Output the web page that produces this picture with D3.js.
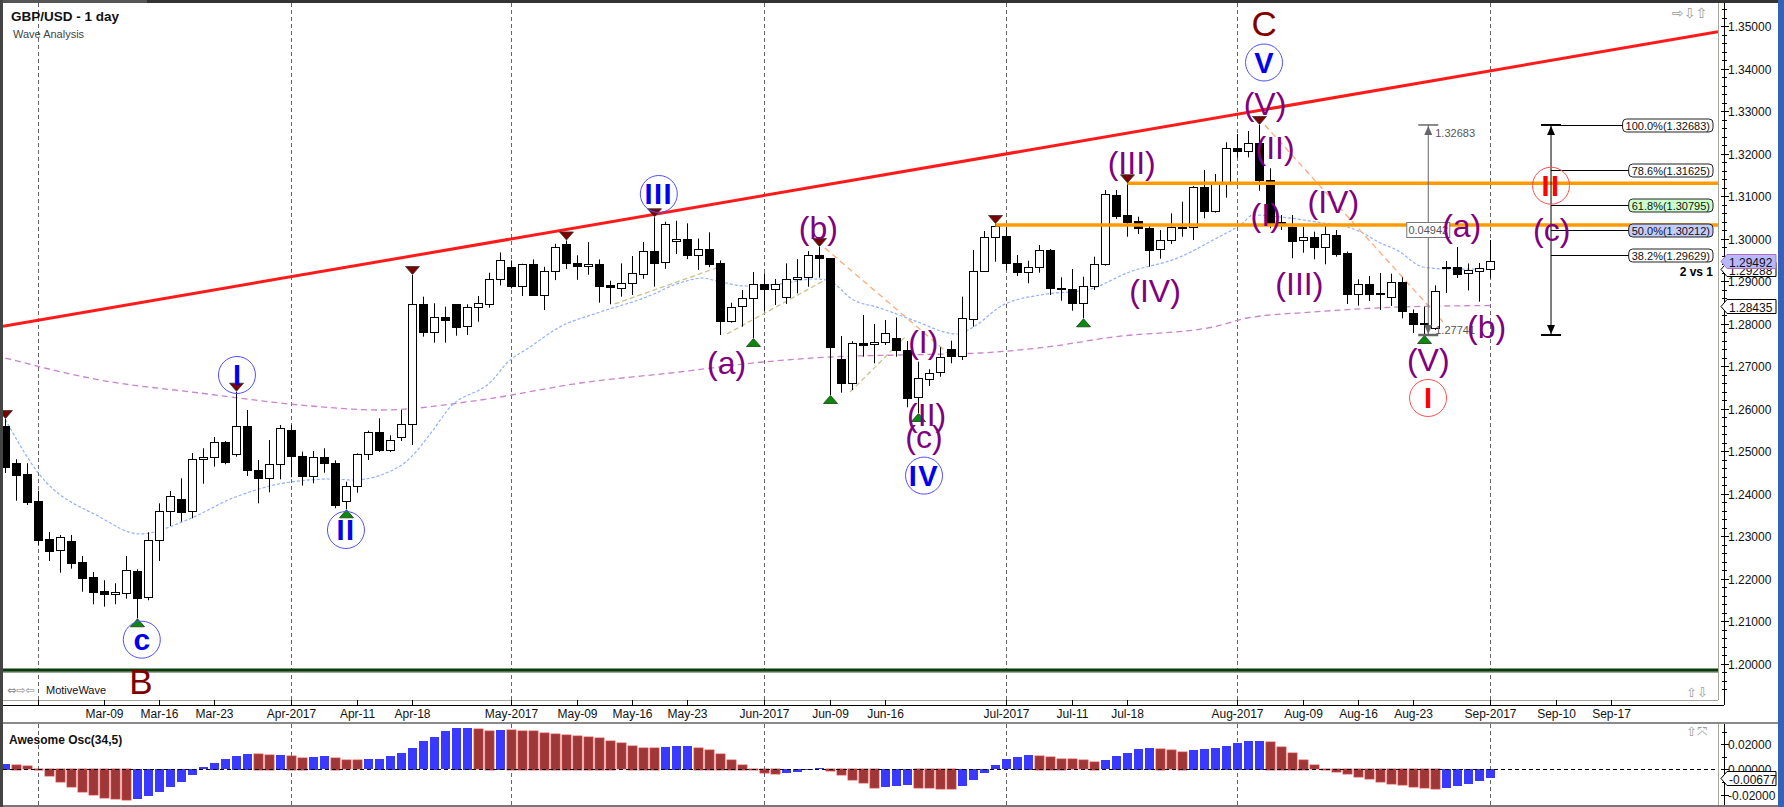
<!DOCTYPE html>
<html><head><meta charset="utf-8">
<script src="https://cdn.jsdelivr.net/npm/d3@7/dist/d3.min.js"></script>
<style>body{margin:0;background:#fff;overflow:hidden}svg{display:block;font-family:"Liberation Sans",Arial,sans-serif}</style>
</head><body><svg id="c" width="1784" height="807"></svg>
<script>
// ================= DATA =================
const openP=[1.2560,1.24738,1.24473,1.23835,1.22941,1.22666,1.22894,1.22400,1.22047,1.21718,1.21640,1.21663,1.22188,1.21570,1.22911,1.23593,1.23882,1.23593,1.24817,1.24864,1.25217,1.24935,1.25593,1.24566,1.24370,1.24699,1.25499,1.24888,1.24417,1.24864,1.24730,1.23828,1.24181,1.24935,1.25452,1.25029,1.25334,1.25640,1.28464,1.27805,1.28172,1.28471,1.27953,1.28393,1.28487,1.29065,1.29347,1.28891,1.29418,1.28690,1.29253,1.29872,1.29433,1.29353,1.29418,1.28910,1.28830,1.28957,1.29191,1.29725,1.29453,1.29963,1.30010,1.29631,1.29775,1.29433,1.28078,1.28407,1.28604,1.28934,1.28817,1.28628,1.29050,1.29097,1.29614,1.29553,1.27170,1.26605,1.27553,1.27523,1.27560,1.27664,1.27388,1.26266,1.26722,1.26854,1.27405,1.27231,1.28134,1.29254,1.30054,1.30071,1.29428,1.29216,1.29334,1.29741,1.28840,1.28824,1.28487,1.28887,1.29405,1.31036,1.30565,1.30424,1.30266,1.29748,1.29969,1.30266,1.30276,1.31217,1.30643,1.31311,1.32134,1.32054,1.32252,1.31381,1.30393,1.30290,1.29976,1.30040,1.29805,1.30094,1.29664,1.28699,1.28941,1.28722,1.28628,1.28977,1.28252,1.28016,1.27906,1.29341,1.29341,1.29193,1.29259,1.29311];
const highP=[1.25765,1.24818,1.24724,1.24078,1.23106,1.23035,1.23035,1.22541,1.22165,1.21970,1.21899,1.22541,1.22228,1.23099,1.23781,1.24071,1.24370,1.24965,1.25076,1.25342,1.25247,1.26407,1.25976,1.24801,1.25271,1.25624,1.25624,1.24996,1.25012,1.25076,1.24793,1.24290,1.24958,1.25490,1.25781,1.25381,1.25976,1.29153,1.28643,1.28487,1.28407,1.28471,1.28464,1.28659,1.29206,1.29683,1.29495,1.29418,1.29519,1.29347,1.29888,1.29966,1.29616,1.29926,1.29519,1.29018,1.29425,1.29600,1.29929,1.30511,1.30407,1.30430,1.30369,1.30010,1.30157,1.29495,1.28501,1.28800,1.29224,1.29192,1.29058,1.29426,1.29527,1.29715,1.29810,1.29553,1.27718,1.27593,1.28212,1.28000,1.28094,1.28153,1.27600,1.27113,1.26934,1.27452,1.27607,1.28643,1.29741,1.30188,1.30353,1.30290,1.29624,1.29489,1.29859,1.29765,1.29099,1.29294,1.29113,1.29584,1.31153,1.31153,1.31311,1.30525,1.30329,1.30212,1.30605,1.30878,1.31247,1.31624,1.31530,1.32275,1.32471,1.32541,1.32683,1.31664,1.30565,1.30565,1.30290,1.30172,1.30329,1.30212,1.29706,1.29052,1.29129,1.29200,1.29184,1.29099,1.28341,1.28407,1.28910,1.29483,1.29812,1.29424,1.29436,1.29977];
const lowP=[1.24494,1.23842,1.23741,1.22800,1.22424,1.22148,1.22243,1.21701,1.21405,1.21349,1.21405,1.21537,1.21076,1.21499,1.22424,1.23247,1.23348,1.23429,1.24243,1.24643,1.24699,1.24878,1.24424,1.23781,1.24040,1.24346,1.24393,1.24196,1.24252,1.24501,1.23664,1.23640,1.24031,1.24801,1.24988,1.24988,1.25247,1.25153,1.27702,1.27560,1.27560,1.27725,1.27741,1.28054,1.28384,1.28907,1.28837,1.28659,1.28675,1.28329,1.29032,1.29292,1.29040,1.29158,1.28502,1.28464,1.28643,1.28682,1.29065,1.28877,1.29298,1.29648,1.29526,1.29274,1.29338,1.27741,1.28031,1.27937,1.27671,1.28306,1.28447,1.28471,1.28721,1.28877,1.29089,1.26330,1.26384,1.26447,1.27231,1.27076,1.27506,1.27231,1.26040,1.25906,1.26541,1.26760,1.27076,1.27153,1.27937,1.29230,1.29466,1.29270,1.29129,1.28958,1.29207,1.28682,1.28548,1.28313,1.28134,1.28800,1.29372,1.30471,1.30054,1.30118,1.29348,1.29536,1.29882,1.30054,1.29976,1.30487,1.30619,1.30972,1.31913,1.31922,1.31136,1.30252,1.30212,1.29546,1.29678,1.29522,1.29405,1.29584,1.28471,1.28432,1.28541,1.28330,1.28424,1.28134,1.27789,1.27741,1.27859,1.28730,1.29082,1.28789,1.28525,1.29076];
const closeP=[1.24636,1.24456,1.23819,1.22918,1.22666,1.22981,1.22384,1.22031,1.21701,1.21640,1.21694,1.22204,1.21560,1.22911,1.23593,1.23946,1.23583,1.24817,1.24864,1.25217,1.24737,1.25593,1.24558,1.24370,1.24699,1.25546,1.24878,1.24408,1.24864,1.24713,1.23748,1.24181,1.24935,1.25452,1.25019,1.25264,1.25647,1.28464,1.27796,1.28158,1.28094,1.27937,1.28393,1.28487,1.29065,1.29512,1.28891,1.29418,1.28682,1.29253,1.29817,1.29423,1.29353,1.29401,1.28907,1.28854,1.28957,1.29191,1.29725,1.29440,1.30346,1.30010,1.29631,1.29775,1.29423,1.28078,1.28407,1.28604,1.28934,1.28817,1.28934,1.29058,1.29097,1.29614,1.29534,1.27452,1.26605,1.27546,1.27513,1.27570,1.27781,1.27381,1.26266,1.26722,1.26854,1.27217,1.27231,1.28134,1.29254,1.30054,1.30306,1.29428,1.29207,1.29334,1.29734,1.28854,1.28807,1.28487,1.28887,1.29405,1.31052,1.30548,1.30407,1.30252,1.29748,1.29969,1.30282,1.30290,1.31217,1.30643,1.31335,1.32134,1.32054,1.32252,1.31372,1.30353,1.30346,1.29960,1.30040,1.29795,1.30110,1.29654,1.28694,1.28934,1.28699,1.28699,1.28977,1.28306,1.27996,1.27993,1.28788,1.29306,1.29176,1.29259,1.29318,1.29492];
const aoVal=[0.0047,0.0039,0.0024,-0.0004,-0.0053,-0.0105,-0.0139,-0.0179,-0.0210,-0.0229,-0.0242,-0.0243,-0.0241,-0.0218,-0.0179,-0.0139,-0.0100,-0.0045,0.0018,0.0055,0.0082,0.0110,0.0126,0.0124,0.0118,0.0119,0.0110,0.0095,0.0103,0.0104,0.0095,0.0074,0.0073,0.0082,0.0087,0.0110,0.0134,0.0174,0.0224,0.0260,0.0302,0.0331,0.0332,0.0318,0.0308,0.0316,0.0315,0.0308,0.0307,0.0292,0.0284,0.0274,0.0266,0.0260,0.0252,0.0229,0.0210,0.0189,0.0174,0.0173,0.0181,0.0189,0.0190,0.0174,0.0158,0.0126,0.0079,0.0039,0.0002,-0.0032,-0.0039,-0.0029,-0.0021,-0.0008,0.0008,-0.0013,-0.0045,-0.0084,-0.0113,-0.0147,-0.0146,-0.0132,-0.0124,-0.0147,-0.0148,-0.0155,-0.0156,-0.0132,-0.0084,-0.0029,0.0032,0.0082,0.0103,0.0118,0.0110,0.0103,0.0087,0.0082,0.0074,0.0063,0.0074,0.0110,0.0134,0.0166,0.0174,0.0166,0.0153,0.0142,0.0158,0.0166,0.0174,0.0189,0.0213,0.0229,0.0230,0.0221,0.0181,0.0134,0.0079,0.0032,-0.0003,-0.0021,-0.0037,-0.0060,-0.0076,-0.0100,-0.0116,-0.0124,-0.0140,-0.0150,-0.0156,-0.0147,-0.0132,-0.0116,-0.0092,-0.00677];

const blueMaIdx=[0,3,8.6,12.2,16.5,20.7,25.9,29.8,31.6,35.9,38.9,40.2,44.3,45.6,47.7,50.4,53.8,58.3,61.3,63.4,64.3,67.4,70.4,73.4,74.7,77.1,79.5,82.5,86.5,88,90.7,94.7,98.3,102.2,106.8,109.8,112.5,113.4,115.9,119.8,122,123.4,125,126.5,128.9,131.1,135];
const blueMaVal=[1.25753,1.24494,1.23459,1.23059,1.23388,1.23906,1.24282,1.24353,1.24329,1.24659,1.25506,1.25976,1.26682,1.27082,1.27459,1.27929,1.28259,1.28635,1.28965,1.29082,1.29035,1.28894,1.28941,1.29059,1.29035,1.28565,1.28377,1.28094,1.27765,1.27929,1.28447,1.28706,1.28800,1.29224,1.29577,1.29976,1.30376,1.30565,1.30518,1.30376,1.30282,1.30141,1.29906,1.29741,1.29341,1.29294,1.29288];
const purpleMaIdx=[0,8.6,17.7,26.8,34.1,43.2,52.3,61.3,68.9,75,81.3,88.6,94.7,100.7,109.8,112.9,118.9,126.8,135];
const purpleMaVal=[1.27200,1.26682,1.26376,1.26094,1.25976,1.26212,1.26612,1.26871,1.27106,1.27224,1.27271,1.27318,1.27459,1.27694,1.27929,1.28141,1.28282,1.28400,1.28435];

const dateTickIdx=[3,9,14,19,26,32,37,46,52,57,62,69,75,80,91,97,102,112,118,123,128,135,141,146];
const dateTickLbl=["","Mar-09","Mar-16","Mar-23","Apr-2017","Apr-11","Apr-18","May-2017","May-09","May-16","May-23","Jun-2017","Jun-09","Jun-16","Jul-2017","Jul-11","Jul-18","Aug-2017","Aug-09","Aug-16","Aug-23","Sep-2017","Sep-10","Sep-17"];
const monthGridIdx=[3,26,46,69,91,112,135];
const priceTicks=[1.20,1.21,1.22,1.23,1.24,1.25,1.26,1.27,1.28,1.29,1.30,1.31,1.32,1.33,1.34,1.35];
const aoTicks=[0.02,0.0,-0.02];

const trendIdx=[0,155.7], trendVal=[1.27958,1.34878];
const supportVal=1.19859;
const orangeIdx=[102,90], orangeVal=[1.3131,1.3033];
const orangeDashA=[[74.5,1.2979],[86.1,1.2722]], orangeDashB=[[114.5,1.32682],[130.7,1.28047]];
const khakiDash=[[[55.4,1.28471],[65.4,1.29388]],[[65.6,1.27765],[74.8,1.29075]],[[76.8,1.26400],[81.8,1.27694]]];
const redDownIdx=[0,21,37,51,59,74,90,102,114];
const greenUpIdx=[12,31,68,75,83,98,129];

const blueWaveIdx=[12.41,21.06,30.97,59.41,83.52,114.43];
const blueWaveVal=[1.20572,1.26800,1.23153,1.31059,1.24433,1.34153];
const blueWaveTxt=["c","I","II","III","IV","V"];
const redWaveIdx=[129.34,140.52], redWaveVal=[1.26259,1.31254], redWaveTxt=["I","II"];
const bigWaveIdx=[12.34,114.43], bigWaveVal=[1.19584,1.35075], bigWaveTxt=["B","C"];
const purpleIdx=[73.91,65.58,83.45,83.76,83.52,102.4,104.52,114.52,115.43,114.58,120.73,117.64,129.36,132.4,134.67,140.58];
const purpleVal=[1.30252,1.27075,1.27584,1.25859,1.25341,1.31781,1.28784,1.33176,1.32134,1.30565,1.30864,1.28941,1.27153,1.30313,1.27937,1.30212];
const purpleTxt=["(b)","(a)","(I)","(II)","(c)","(III)","(IV)","(V)","(II)","(I)","(IV)","(III)","(V)","(a)","(b)","(c)"];

const fibIdx=140.52, fibHigh=1.32683, fibLow=1.27741;
const fibPrices=[1.32683,1.31625,1.30795,1.30212,1.29629];
const fibLabels=["100.0%(1.32683)","78.6%(1.31625)","61.8%(1.30795)","50.0%(1.30212)","38.2%(1.29629)"];
const fibFills=["#ffffff","#ffffff","#ccffcc","#c4ccff","#ffffff"];
const fibNote="2 vs 1", fibNotePrice=1.2913;
const measIdx=129.36, measHigh=1.32683, measLow=1.27741, measDiff="0.04942";
const priceTags=[1.28435,1.29288,1.29492];
const priceTagFill=["#ffffff","#ffffff","#b8b8ff"];
const aoTag=-0.00677;

// ================= LAYOUT =================
const W=1784,H=807,L=3,R=1718,T=3,B=700,AXX=1724,DAXY=705,AOT=724,AOB=805;
const svg=d3.select('#c');
const x=d3.scaleLinear().domain([-0.209,155.7]).range([L,R]);
const y=d3.scaleLinear().domain([1.191529,1.355529]).range([B,T]);
const ya=d3.scaleLinear().domain([-0.028175,0.036111]).range([AOB,AOT]);
const cx=i=>Math.round(x(i));

svg.append('rect').attr('width',W).attr('height',H).attr('fill','#fff');
const defs=svg.append('defs');
defs.append('clipPath').attr('id','mc').append('rect').attr('x',L).attr('y',T).attr('width',R-L).attr('height',B-T);
defs.append('clipPath').attr('id','ac').append('rect').attr('x',L).attr('y',AOT).attr('width',R-L).attr('height',AOB-AOT);

// month grid
const grid=svg.append('g').attr('stroke','#666').attr('stroke-dasharray','4,3');
monthGridIdx.forEach(i=>{
  grid.append('line').attr('x1',cx(i)+0.5).attr('x2',cx(i)+0.5).attr('y1',T).attr('y2',B);
  grid.append('line').attr('x1',cx(i)+0.5).attr('x2',cx(i)+0.5).attr('y1',AOT).attr('y2',AOB);
});

const main=svg.append('g').attr('clip-path','url(#mc)');
// support line
main.append('line').attr('x1',L).attr('x2',R).attr('y1',y(supportVal)+2).attr('y2',y(supportVal)+2).attr('stroke','#9aaa9a').attr('stroke-width',2);
main.append('line').attr('x1',L).attr('x2',R).attr('y1',y(supportVal)).attr('y2',y(supportVal)).attr('stroke','#0b3a0b').attr('stroke-width',3.2);
// moving averages
const lineGen=d3.line().x(d=>x(d[0])).y(d=>y(d[1])).curve(d3.curveMonotoneX);
main.append('path').attr('d',lineGen(purpleMaIdx.map((d,k)=>[d,purpleMaVal[k]]))).attr('fill','none').attr('stroke','#c984cc').attr('stroke-width',1.3).attr('stroke-dasharray','6,4');
main.append('path').attr('d',lineGen(blueMaIdx.map((d,k)=>[d,blueMaVal[k]]))).attr('fill','none').attr('stroke','#8fb0ff').attr('stroke-width',1.2).attr('stroke-dasharray','3,2');
// khaki + orange dashed
khakiDash.forEach(s=>main.append('line').attr('x1',x(s[0][0])).attr('y1',y(s[0][1])).attr('x2',x(s[1][0])).attr('y2',y(s[1][1])).attr('stroke','#c9c28a').attr('stroke-width',1.3).attr('stroke-dasharray','5,3'));
[orangeDashA,orangeDashB].forEach(s=>main.append('line').attr('x1',x(s[0][0])).attr('y1',y(s[0][1])).attr('x2',x(s[1][0])).attr('y2',y(s[1][1])).attr('stroke','#ffaa77').attr('stroke-width',1.3).attr('stroke-dasharray','6,4'));

// candles
const idx=d3.range(openP.length);
const cg=main.append('g');
cg.selectAll('line').data(idx).join('line')
  .attr('x1',i=>cx(i)+0.5).attr('x2',i=>cx(i)+0.5)
  .attr('y1',i=>y(highP[i])).attr('y2',i=>y(lowP[i])).attr('stroke','#000');
cg.selectAll('rect').data(idx).join('rect')
  .attr('x',i=>cx(i)-3.5).attr('width',8)
  .attr('y',i=>Math.round(y(Math.max(openP[i],closeP[i])))+0.5)
  .attr('height',i=>Math.max(1,Math.round(Math.abs(y(openP[i])-y(closeP[i])))))
  .attr('fill',i=>closeP[i]>=openP[i]?'#fff':'#000').attr('stroke','#000');

// orange horizontal lines
orangeIdx.forEach((i,k)=>main.append('line').attr('x1',x(i)).attr('x2',R).attr('y1',y(orangeVal[k])).attr('y2',y(orangeVal[k])).attr('stroke','#ff9a00').attr('stroke-width',3.5));
// red trend line (extended to the left edge)
const trendAt=v=>trendVal[0]+(trendVal[1]-trendVal[0])*(v-trendIdx[0])/(trendIdx[1]-trendIdx[0]);
main.append('line').attr('x1',L).attr('y1',y(trendAt(x.invert(L)))).attr('x2',x(trendIdx[1])).attr('y2',y(trendVal[1])).attr('stroke','#ff1a1a').attr('stroke-width',3);

// markers
redDownIdx.forEach(i=>{const X=cx(i)+0.5,Y=y(highP[i])-0.5;
  main.append('path').attr('d',`M${X-7},${Y-8}L${X+7},${Y-8}L${X},${Y}Z`).attr('fill','#7a0000').attr('stroke','#333').attr('stroke-width',0.8);});
greenUpIdx.forEach(i=>{const X=cx(i)+0.5,Y=y(lowP[i])+0.5;
  main.append('path').attr('d',`M${X-7},${Y+8}L${X+7},${Y+8}L${X},${Y}Z`).attr('fill','#0a8a0a').attr('stroke','#1a3a1a').attr('stroke-width',0.8);});

// measurement tool
const mg=main.append('g').attr('stroke','#666').attr('fill','#666');
const mX=x(measIdx), mT=y(measHigh), mB=y(measLow);
mg.append('line').attr('x1',mX).attr('x2',mX).attr('y1',mT).attr('y2',mB);
mg.append('line').attr('x1',mX-10).attr('x2',mX+10).attr('y1',mT).attr('y2',mT).attr('stroke-width',1.5);
mg.append('line').attr('x1',mX-10).attr('x2',mX+10).attr('y1',mB).attr('y2',mB).attr('stroke-width',2.5);
mg.append('path').attr('d',`M${mX},${mT+1}L${mX-4},${mT+10}L${mX+4},${mT+10}Z`).attr('stroke','none');
mg.append('path').attr('d',`M${mX},${mB-1}L${mX-4},${mB-10}L${mX+4},${mB-10}Z`).attr('stroke','none');
main.append('text').attr('x',mX+7).attr('y',mT+12).text(measHigh.toFixed(5)).attr('font-size',11).attr('fill','#555');
main.append('text').attr('x',mX+7).attr('y',mB-1).text(measLow.toFixed(5)).attr('font-size',11).attr('fill','#555');
const mMid=y((measHigh+measLow)/2);
main.append('rect').attr('x',mX-21.5).attr('y',Math.round(mMid)-7.5).attr('width',43).attr('height',15).attr('fill','#fff').attr('stroke','#777');
main.append('text').attr('x',mX).attr('y',Math.round(mMid)+4).attr('text-anchor','middle').text(measDiff).attr('font-size',11).attr('fill','#555');

// fib tool
const fg=main.append('g');
const fX=x(fibIdx), fT=y(fibHigh), fB=y(fibLow);
fg.append('line').attr('x1',fX).attr('x2',fX).attr('y1',fT).attr('y2',fB).attr('stroke','#000');
fg.append('line').attr('x1',fX-10).attr('x2',fX+10).attr('y1',fT).attr('y2',fT).attr('stroke','#000').attr('stroke-width',2);
fg.append('line').attr('x1',fX-10).attr('x2',fX+10).attr('y1',fB).attr('y2',fB).attr('stroke','#000').attr('stroke-width',2);
fg.append('path').attr('d',`M${fX},${fT+1}L${fX-4},${fT+10}L${fX+4},${fT+10}Z`).attr('fill','#000');
fg.append('path').attr('d',`M${fX},${fB-1}L${fX-4},${fB-10}L${fX+4},${fB-10}Z`).attr('fill','#000');
fibPrices.forEach((p,k)=>{
  const Y=Math.round(y(p))+0.5;
  const t=fg.append('text').attr('x',R-8).attr('y',Y+4).attr('text-anchor','end').attr('font-size',11).attr('fill','#111').text(fibLabels[k]);
  const bb=t.node().getBBox();
  fg.insert('rect','text').attr('x',bb.x-3).attr('y',Y-6.5).attr('width',bb.width+6).attr('height',13).attr('rx',4).attr('fill',fibFills[k]).attr('stroke','#222');
  fg.append('line').attr('x1',k===0?fX+10:fX).attr('x2',bb.x-3).attr('y1',Y).attr('y2',Y).attr('stroke','#000');
});
fg.append('text').attr('x',R-5).attr('y',y(fibNotePrice)).attr('text-anchor','end').attr('font-size',12).attr('font-weight','bold').text(fibNote);

// wave labels
const lab=main.append('g');
blueWaveTxt.forEach((t,k)=>{const X=x(blueWaveIdx[k]),Y=y(blueWaveVal[k]);
  lab.append('circle').attr('cx',X).attr('cy',Y).attr('r',18.5).attr('fill','none').attr('stroke','#5050ff');
  lab.append('text').attr('x',X).attr('y',Y).attr('dy','0.36em').attr('text-anchor','middle').attr('font-size',t==='c'?30:29).attr('font-weight','bold').attr('fill','#0000ee').attr('letter-spacing',t.length>1?1.5:0).text(t);});
redWaveTxt.forEach((t,k)=>{const X=x(redWaveIdx[k]),Y=y(redWaveVal[k]);
  lab.append('circle').attr('cx',X).attr('cy',Y).attr('r',18.5).attr('fill','none').attr('stroke','#ff5050');
  lab.append('text').attr('x',X).attr('y',Y).attr('dy','0.36em').attr('text-anchor','middle').attr('font-size',29).attr('font-weight','bold').attr('fill','#ff0000').attr('letter-spacing',t.length>1?1.5:0).text(t);});
bigWaveTxt.forEach((t,k)=>lab.append('text').attr('x',x(bigWaveIdx[k])).attr('y',y(bigWaveVal[k])).attr('dy','0.36em').attr('text-anchor','middle').attr('font-size',35).attr('fill','#800000').text(t));
purpleTxt.forEach((t,k)=>lab.append('text').attr('x',x(purpleIdx[k])).attr('y',y(purpleVal[k])).attr('dy','0.34em').attr('text-anchor','middle').attr('font-size',32).attr('fill','#800080').text(t));

// titles
svg.append('text').attr('x',11).attr('y',21).attr('font-size',13.5).attr('font-weight','bold').attr('fill','#111').text('GBP/USD - 1 day');
svg.append('text').attr('x',13).attr('y',38).attr('font-size',11).attr('fill','#444').text('Wave Analysis');
svg.append('text').attr('x',7).attr('y',694).attr('font-size',11).attr('fill','#888').attr('font-family','DejaVu Sans').text('⇔⇨⇦');
svg.append('text').attr('x',46).attr('y',694).attr('font-size',11).attr('fill','#111').text('MotiveWave');
svg.append('text').attr('x',1672).attr('y',18).attr('font-size',14).attr('fill','#999').attr('font-family','DejaVu Sans').text('⇨⇩⇧');
svg.append('text').attr('x',1686).attr('y',697).attr('font-size',13).attr('fill','#999').attr('font-family','DejaVu Sans').text('⇧⇩');
svg.append('text').attr('x',1686).attr('y',736).attr('font-size',13).attr('fill','#999').attr('font-family','DejaVu Sans').text('⇧⤧');

// frames
svg.append('line').attr('x1',L).attr('x2',R).attr('y1',B+0.5).attr('y2',B+0.5).attr('stroke','#a8a898');
svg.append('line').attr('x1',R+0.5).attr('x2',R+0.5).attr('y1',T).attr('y2',B).attr('stroke','#a8a898');
svg.append('line').attr('x1',R+0.5).attr('x2',R+0.5).attr('y1',AOT).attr('y2',AOB).attr('stroke','#a8a898');
svg.append('line').attr('x1',L).attr('x2',AXX).attr('y1',DAXY+0.5).attr('y2',DAXY+0.5).attr('stroke','#000');
svg.append('line').attr('x1',AXX+0.5).attr('x2',AXX+0.5).attr('y1',T).attr('y2',DAXY).attr('stroke','#000');
svg.append('line').attr('x1',AXX+0.5).attr('x2',AXX+0.5).attr('y1',AOT).attr('y2',AOB).attr('stroke','#000');

// price axis
const pa=svg.append('g');
d3.range(1.194,1.355,0.002).forEach(v=>{const Y=Math.round(y(v))+0.5;
  pa.append('line').attr('x1',AXX-2).attr('x2',AXX+3).attr('y1',Y).attr('y2',Y).attr('stroke','#000');});
priceTicks.forEach(v=>{const Y=Math.round(y(v))+0.5;
  pa.append('line').attr('x1',AXX-3).attr('x2',AXX+5).attr('y1',Y).attr('y2',Y).attr('stroke','#000');
  pa.append('text').attr('x',AXX+4).attr('y',Y+4.5).attr('font-size',12).attr('fill','#111').text(v.toFixed(5));});
function tag(g,Y,txt,fill,stroke){
  g.append('path').attr('d',`M${AXX-3},${Y}L${AXX+3},${Y-7}L${W-8},${Y-7}L${W-8},${Y+7}L${AXX+3},${Y+7}Z`).attr('fill',fill).attr('stroke',stroke);
  g.append('text').attr('x',AXX+5).attr('y',Y+5).attr('font-size',12).attr('fill','#111').text(txt);}
priceTags.forEach((v,k)=>tag(pa,Math.round(y(v))+0.5,v.toFixed(5),priceTagFill[k],k===2?'#b070c0':'#000'));

// date axis
const da=svg.append('g');
dateTickIdx.forEach((i,k)=>{const X=cx(i)+0.5;
  da.append('line').attr('x1',X).attr('x2',X).attr('y1',DAXY-5).attr('y2',DAXY).attr('stroke','#000');
  da.append('text').attr('x',X).attr('y',718).attr('text-anchor','middle').attr('font-size',12).attr('fill','#111').text(dateTickLbl[k]);});

// separator
svg.append('rect').attr('x',0).attr('y',722).attr('width',W-6).attr('height',2).attr('fill','#8a8a8a');
svg.append('rect').attr('x',0).attr('y',805).attr('width',W).attr('height',2).attr('fill','#777');

// AO panel
const ao=svg.append('g').attr('clip-path','url(#ac)');
ao.selectAll('rect').data(idx).join('rect')
  .attr('x',i=>cx(i)-4).attr('width',9)
  .attr('y',i=>Math.round(Math.min(ya(aoVal[i]),ya(0))))
  .attr('height',i=>Math.max(1,Math.round(Math.abs(ya(aoVal[i])-ya(0)))))
  .attr('fill',i=>(i===0||aoVal[i]>=aoVal[i-1])?'#3a3aff':'#9e3838')
  .attr('stroke',i=>(i===0||aoVal[i]>=aoVal[i-1])?'none':'#d04040').attr('stroke-width',0.8);
ao.append('line').attr('x1',L).attr('x2',R).attr('y1',Math.round(ya(0))+0.5).attr('y2',Math.round(ya(0))+0.5).attr('stroke','#000').attr('stroke-dasharray','4,3');
svg.append('text').attr('x',9).attr('y',744).attr('font-size',12).attr('font-weight','bold').attr('fill','#111').text('Awesome Osc(34,5)');
const aa=svg.append('g');
[0.03,0.01,-0.01].forEach(v=>{const Y=Math.round(ya(v))+0.5;aa.append('line').attr('x1',AXX-2).attr('x2',AXX+3).attr('y1',Y).attr('y2',Y).attr('stroke','#000');});
aoTicks.forEach(v=>{const Y=Math.round(ya(v))+0.5;
  aa.append('line').attr('x1',AXX-3).attr('x2',AXX+5).attr('y1',Y).attr('y2',Y).attr('stroke','#000');
  aa.append('text').attr('x',AXX+4).attr('y',Y+4.5).attr('font-size',12).attr('fill','#111').text(v.toFixed(5));});
tag(aa,Math.round(ya(aoTag))+0.5,aoTag.toFixed(5),'#fff','#000');

// window chrome
svg.append('rect').attr('x',0).attr('y',0).attr('width',W).attr('height',3).attr('fill','#333');
svg.append('rect').attr('x',0).attr('y',0).attr('width',147).attr('height',3).attr('fill','#555');
svg.append('rect').attr('x',0).attr('y',0).attr('width',3).attr('height',H).attr('fill','#444');
svg.append('rect').attr('x',W-6).attr('y',0).attr('width',6).attr('height',H).attr('fill','#3561b8');
</script></body></html>
